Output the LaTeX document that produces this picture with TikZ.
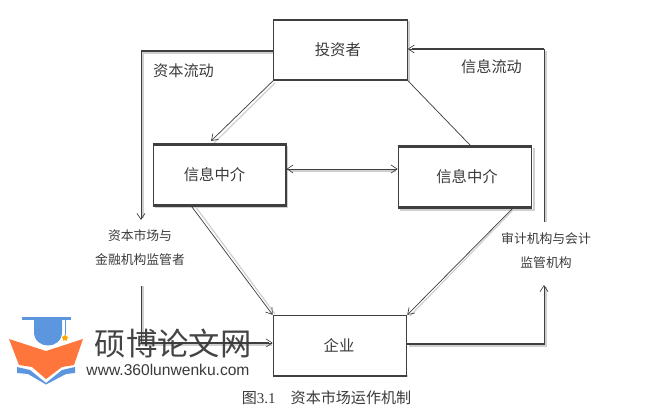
\documentclass[tikz,border=0pt]{standalone}
\usepackage{fontspec}
\setmainfont{Liberation Serif}
\newfontfamily\cjk{Noto Sans CJK SC}
\newfontfamily\wmlatin{Liberation Sans}
\usetikzlibrary{arrows.meta,calc,shapes.geometric}
\definecolor{lineC}{HTML}{3F3F3F}
\definecolor{shadowC}{HTML}{CFCFCF}
\definecolor{textC}{HTML}{3A3A3A}
\definecolor{logoB}{HTML}{5B96DF}
\definecolor{logoO}{HTML}{FF763C}
\tikzset{
  x=0.75pt,y=-0.75pt,
  boxbase/.style={draw=lineC,line width=0.9pt,fill=white,minimum width=100pt,minimum height=45pt,inner sep=0pt,font=\cjk\fontsize{11.5pt}{13pt}\selectfont,text=textC},
  midbox/.style={boxbase,line width=1pt},
  plainlabel/.style={inner sep=0pt,font=\cjk\fontsize{11.4pt}{13pt}\selectfont,text=textC},
  smalllabel/.style={inner sep=0pt,align=center,font=\cjk\fontsize{9.6pt}{18pt}\selectfont,text=textC},
  conn/.style={draw=lineC,line width=0.55pt,-{Straight Barb[length=4.5pt,width=6pt,line width=0.5pt]}},
  connplain/.style={draw=lineC,line width=0.55pt},
  shadow/.style={draw=shadowC,line width=0.9pt},
}
\begin{document}
\begin{tikzpicture}
\useasboundingbox (0,0) rectangle (649,407);
% coordinates of the free ends and the corners
\coordinate (tl) at (141,51);
\coordinate (te) at (141,220);
\coordinate (ls) at (141,286);
\coordinate (lc) at (141,343);
\coordinate (rs) at (544,222);
\coordinate (rc) at (544,49);
\coordinate (re) at (544,285);
\coordinate (rb) at (544,344);
% shadows
\draw[shadow] (274,53) -- (143,53) -- (143,218);
\draw[shadow] (143,286) -- (143,345) -- (272,345);
\draw[shadow] (546,222) -- (546,51);
\draw[shadow] (409,346) -- (546,346) -- (546,287);
\draw[shadow] (275,83) -- (214,143);
\draw[shadow] (195,206) -- (275,314);
\draw[shadow] (514,209) -- (410,316);
\draw[shadow] (290,171) -- (396,171);
\draw[shadow] (287,146) -- (287,207) -- (155,207);
\draw[shadow] (534,148) -- (534,210) -- (400,210);
\draw[shadow] (409,21) -- (409,82);
\draw[shadow] (408,376) -- (275,376);
% nodes
\node[boxbase] (inv) at (340.5,50) {投资者\kern4pt};
\node[midbox,minimum width=99.5pt] (l) at (219.5,175) {信息中介\kern7.5pt};
\node[midbox] (r) at (465,177) {\kern3pt信息中介};
\node[boxbase] (ent) at (340,345.5) {企业\kern1.5pt};
\draw[lineC,line width=1.6pt] (l.north west) -- (l.north east) (l.south west) -- (l.south east);
\draw[lineC,line width=1.6pt] (r.north west) -- (r.north east) (r.south west) -- (r.south east);
\draw[lineC,line width=1.2pt] (inv.north west) -- (inv.north east) (inv.south west) -- (inv.south east) (ent.south west) -- (ent.south east);
\node[plainlabel] (capflow) at (183.5,71) {资本流动};
\node[plainlabel] (infoflow) at (491.5,67) {信息流动};
\node[smalllabel] (reg) at (140,248) {资本市场与\\金融机构监管者};
\node[smalllabel] (aud) at (546,251) {审计机构与会计\\监管机构};
\node[inner sep=0pt,font=\cjk\fontsize{11.3pt}{13pt}\selectfont,text=textC] (cap) at (326.5,398) {图{\rmfamily 3.1}\hspace{1em}资本市场运作机制};
% connectors
\draw[conn] (inv.west |- tl) -- (tl) -- (te);
\draw[connplain,line width=1pt] (inv.west |- tl) -- (tl);
\draw[conn] (ls) -- (lc) -- (ent.west |- lc);
\draw[connplain,line width=1pt] (lc) -- ($(ent.west |- lc)+(-4,0)$);
\draw[conn] (rs) -- (rc) -- (inv.east |- rc);
\draw[connplain,line width=1pt] (rc) -- ($(inv.east |- rc)+(4,0)$);
\draw[conn] (ent.east |- rb) -- (rb) -- (re);
\draw[connplain,line width=1pt] (ent.east |- rb) -- (rb);
\draw[conn] (inv.south west) -- (211,141);
\draw[connplain] (r.north |- 0,145) ++(5,0) -- (inv.south east);
\draw[conn] (192,207) -- (ent.north west);
\draw[conn] (512,209) -- (ent.north east);
\draw[conn,{Straight Barb[length=4.5pt,width=6pt,line width=0.5pt]}-{Straight Barb[length=4.5pt,width=6pt,line width=0.5pt]}] (l.east |- 0,169) -- (r.west |- 0,169);
% watermark logo
\fill[logoB] (22,317) rectangle (71,320);
\fill[logoB] (34,320) -- (62,320) -- (62,332) .. controls (62,341) and (55,345.5) .. (48,345.5) .. controls (41,345.5) and (34,341) .. (34,332) -- cycle;
\draw[logoB,line width=0.6pt] (65.5,320) -- (65.5,335);
\node[star,star points=5,fill=orange!70!yellow,minimum size=5pt,inner sep=0pt] (starmark) at (65,338) {};
\fill[logoB] (17,367) -- (30,370) -- (46,383) -- (62,370) -- (75,367) -- (75,373) -- (66,374) -- (46,384.5) -- (28,374) -- (17,373) -- cycle;
\fill[logoO] (9,339) -- (46,351) -- (83,339) -- (74,365) -- (62,367) -- (46,379) -- (32,367) -- (19,365) -- cycle;
\node[inner sep=0pt,font=\cjk\fontsize{23.5pt}{26pt}\selectfont,text=textC,opacity=0.95] (wm) at (173,343) {硕博论文网};
\node[inner sep=0pt,font=\wmlatin\fontsize{11.7pt}{14pt}\selectfont,text=textC] (wmurl) at (168,370) {www.360lunwenku.com};
\end{tikzpicture}
\end{document}
